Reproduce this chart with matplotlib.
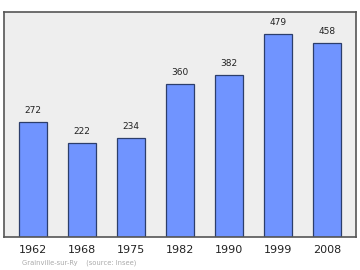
import matplotlib
matplotlib.use("Agg")
import matplotlib.pyplot as plt

years = ["1962", "1968", "1975", "1982", "1990", "1999", "2008"]
population = [272, 222, 234, 360, 382, 479, 458]
source_text = "Grainville-sur-Ry    (source: Insee)"

fig = plt.figure(figsize=(3.6, 2.7), dpi=100)
ax = fig.add_axes([4/360, 1 - 237/270, 352/360, 225/270])
ax.set_facecolor("#eeeeee")
x = list(range(len(years)))
ax.bar(x, population, width=0.58, color="#7094ff", edgecolor="#2c3e6b", linewidth=0.9, zorder=2)
for xi, v in zip(x, population):
    ax.text(xi, v + 16, str(v), ha="center", va="bottom", fontsize=6.5, color="#222222")
ax.set_xlim(-0.59, 6.59)
ax.set_ylim(0, 530)
ax.set_yticks([])
ax.set_xticks(x)
ax.set_xticklabels(years, fontsize=8, color="#222222")
ax.tick_params(axis="x", length=0, pad=6)
for s in ax.spines.values():
    s.set_color("#555555")
    s.set_linewidth(1.2)
fig.text(22/360, 1 - 263/270, source_text, fontsize=4.9, color="#aaaaaa", ha="left", va="center")
fig.savefig("out.png", dpi=100)
